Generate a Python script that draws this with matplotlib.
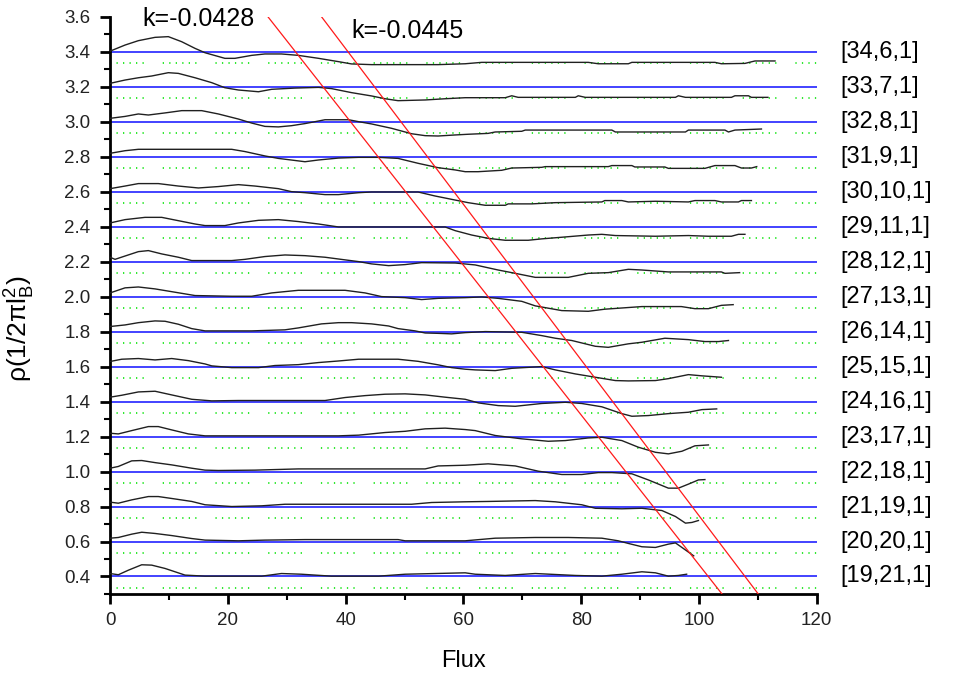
import numpy as np
import matplotlib
matplotlib.use("Agg")
import matplotlib.pyplot as plt
from matplotlib.ticker import MultipleLocator

plt.rcParams['font.family'] = ['Liberation Sans', 'DejaVu Sans']
plt.rcParams['mathtext.default'] = 'regular'

# ---------------- data ----------------
baselines = [3.4, 3.2, 3.0, 2.8, 2.6, 2.4, 2.2, 2.0, 1.8, 1.6, 1.4, 1.2, 1.0, 0.8, 0.6, 0.4]
labels = ["[34,6,1]", "[33,7,1]", "[32,8,1]", "[31,9,1]", "[30,10,1]", "[29,11,1]",
          "[28,12,1]", "[27,13,1]", "[26,14,1]", "[25,15,1]", "[24,16,1]", "[23,17,1]",
          "[22,18,1]", "[21,19,1]", "[20,20,1]", "[19,21,1]"]
green_offset = -0.066          # dotted reference level below each baseline
slopes = [-0.0428, -0.0445]     # red guide lines
slope_x_at_top = [26.8, 35.9]   # flux where each red line leaves y = 3.6
slope_labels = ["k=-0.0428", "k=-0.0445"]

# curves: flux values and deviation from the baseline
X1 = [0, 2.55, 4.81, 7.64, 9.9, 12.17, 14.43, 16.13, 19.5, 21.2, 24.05, 26.3, 29.1, 31.97, 35.4,
      38.8, 41.0, 44.4, 50.1, 55.7, 60.3, 63.1, 69.9, 81.2, 82.9, 88.0, 88.6, 102.7, 103.8, 107.8,
      109.5, 112.9]
D1 = [0.003, 0.038, 0.063, 0.082, 0.086, 0.057, 0.019, -0.006, -0.038, -0.038, -0.021, -0.013,
      -0.013, -0.021, -0.038, -0.057, -0.070, -0.074, -0.074, -0.074, -0.069, -0.061, -0.061,
      -0.061, -0.069, -0.069, -0.061, -0.061, -0.069, -0.067, -0.053, -0.053]

X2 = [0, 2.55, 4.81, 7.07, 9.9, 11.6, 14.43, 17.26, 19.5, 21.79, 25.2, 27.45, 31.4, 35.4, 37.6,
      41.0, 44.4, 46.7, 48.9, 53.5, 56.9, 60.3, 67.1, 68.2, 69.3, 79.0, 79.5, 80.7, 96.0, 96.5,
      97.7, 105.5, 106.1, 108.4, 108.9, 111.7]
D2 = [0.019, 0.038, 0.051, 0.061, 0.080, 0.076, 0.051, 0.023, -0.006, -0.019, -0.029, -0.015,
      -0.008, -0.004, -0.011, -0.034, -0.053, -0.069, -0.080, -0.076, -0.069, -0.063, -0.063,
      -0.052, -0.061, -0.061, -0.052, -0.061, -0.061, -0.052, -0.061, -0.061, -0.052, -0.052,
      -0.061, -0.061]

X3 = [0, 2.55, 4.81, 6.51, 9.34, 12.17, 15.56, 18.39, 21.79, 24.05, 26.3, 28.58, 30.8, 33.1,
      34.2, 36.5, 40.5, 42.2, 44.4, 47.8, 51.2, 53.5, 55.7, 58.6, 60.8, 64.2, 65.4, 69.9, 70.5,
      85.2, 85.8, 97.7, 98.2, 104.4, 105.0, 106.1, 110.6]
D3 = [0.019, 0.030, 0.044, 0.038, 0.050, 0.063, 0.063, 0.044, 0.015, -0.008, -0.027, -0.030,
      -0.023, -0.011, -0.004, 0.011, 0.011, 0.0, -0.013, -0.038, -0.069, -0.080, -0.082, -0.076,
      -0.072, -0.067, -0.059, -0.055, -0.048, -0.048, -0.059, -0.059, -0.048, -0.048, -0.059,
      -0.048, -0.042]

X4 = [0, 2.55, 4.81, 10.47, 20.66, 22.92, 26.3, 28.58, 33.1, 35.4, 38.8, 42.2, 45.6, 48.9, 52.3,
      55.7, 58.6, 60.3, 62.5, 66.5, 68.2, 73.3, 73.9, 84.6, 85.2, 88.6, 89.1, 94.2, 94.8, 101.0,
      102.7, 106.1, 107.2, 108.9, 109.8]
D4 = [0.019, 0.034, 0.042, 0.042, 0.042, 0.029, 0.004, -0.010, -0.029, -0.019, -0.008, -0.004,
      -0.004, -0.010, -0.038, -0.063, -0.076, -0.086, -0.086, -0.078, -0.065, -0.061, -0.057,
      -0.057, -0.051, -0.051, -0.059, -0.059, -0.067, -0.067, -0.051, -0.051, -0.065, -0.065,
      -0.057]

X5 = [0, 2.55, 4.81, 8.2, 11.6, 15.0, 18.39, 21.79, 24.6, 28.58, 30.8, 33.1, 36.5, 38.8, 42.2,
      44.4, 47.8, 52.3, 55.2, 58.0, 60.8, 63.7, 67.1, 67.6, 71.6, 75.6, 83.5, 84.0, 86.9, 88.0,
      92.6, 98.2, 99.3, 102.7, 103.8, 106.7, 107.2, 108.9]
D5 = [0.017, 0.032, 0.046, 0.046, 0.032, 0.021, 0.029, 0.040, 0.032, 0.017, 0.0, -0.006, -0.017,
      -0.017, -0.006, -0.002, -0.002, -0.002, -0.025, -0.044, -0.063, -0.078, -0.078, -0.070,
      -0.070, -0.063, -0.059, -0.051, -0.051, -0.059, -0.055, -0.059, -0.051, -0.051, -0.059,
      -0.059, -0.051, -0.051]

X6 = [0, 2.55, 5.94, 8.77, 11.6, 14.43, 16.13, 19.5, 21.79, 25.2, 28.58, 31.97, 35.4, 38.8, 56.9,
      58.6, 61.4, 64.2, 67.1, 71.0, 73.3, 77.3, 81.2, 83.5, 85.8, 92.6, 98.2, 101.6, 105.5, 106.7,
      107.8]
D6 = [0.021, 0.040, 0.053, 0.053, 0.034, 0.015, 0.006, 0.006, 0.021, 0.036, 0.040, 0.029, 0.015,
      -0.002, -0.002, -0.023, -0.048, -0.067, -0.078, -0.078, -0.070, -0.059, -0.048, -0.044,
      -0.051, -0.055, -0.051, -0.055, -0.055, -0.044, -0.044]

X7 = [0, 0.85, 2.55, 4.81, 6.51, 8.77, 11.6, 13.87, 20.66, 22.92, 26.3, 29.7, 33.1, 36.5, 39.9,
      42.2, 44.4, 47.3, 50.1, 52.9, 58.6, 62.0, 65.9, 68.8, 72.2, 77.8, 81.2, 84.6, 88.0, 90.3,
      94.8, 103.8, 104.4, 106.9]
D7 = [0.025, 0.013, 0.032, 0.057, 0.063, 0.044, 0.025, 0.006, 0.006, 0.013, 0.029, 0.038, 0.034,
      0.025, 0.010, 0.0, -0.013, -0.023, -0.017, -0.006, -0.008, -0.019, -0.048, -0.067, -0.090,
      -0.090, -0.067, -0.063, -0.044, -0.048, -0.059, -0.059, -0.067, -0.063]

X8 = [0, 2.55, 4.81, 7.64, 11.04, 14.43, 20.66, 24.05, 27.45, 31.97, 35.9, 39.9, 43.3, 46.1,
      50.1, 52.9, 55.7, 60.3, 63.1, 65.9, 69.9, 72.2, 76.7, 81.2, 84.0, 90.3, 97.0, 99.3, 101.6,
      103.8, 105.8]
D8 = [0.021, 0.050, 0.055, 0.044, 0.025, 0.006, 0.002, 0.002, 0.021, 0.036, 0.036, 0.036, 0.021,
      0.0, -0.006, -0.017, -0.010, -0.006, -0.002, -0.010, -0.027, -0.053, -0.080, -0.084,
      -0.072, -0.057, -0.057, -0.069, -0.069, -0.050, -0.046]

X9 = [0, 2.55, 4.81, 7.64, 9.34, 11.6, 13.87, 16.13, 24.05, 29.7, 31.97, 35.9, 38.8, 41.0, 44.4,
      47.3, 48.9, 51.8, 53.5, 55.7, 58.0, 60.3, 63.7, 69.9, 73.3, 75.6, 78.4, 82.4, 84.6, 88.0,
      90.3, 94.2, 98.2, 101.0, 103.3, 105.0]
D9 = [0.029, 0.038, 0.051, 0.061, 0.059, 0.042, 0.017, 0.004, 0.004, 0.010, 0.021, 0.044, 0.051,
      0.051, 0.044, 0.032, 0.017, 0.004, -0.008, -0.010, -0.013, -0.006, 0.0, -0.004, -0.023,
      -0.038, -0.051, -0.084, -0.090, -0.070, -0.061, -0.038, -0.046, -0.057, -0.057, -0.051]

X10 = [0, 1.98, 4.81, 7.64, 10.47, 13.3, 16.13, 17.26, 20.66, 25.2, 28.0, 31.97, 35.4, 38.8, 42.2,
       48.9, 52.3, 55.7, 58.0, 60.3, 62.0, 65.4, 68.2, 73.3, 75.6, 79.0, 82.4, 85.8, 88.0, 92.6,
       94.8, 98.2, 100.5, 103.8]
D10 = [0.029, 0.042, 0.046, 0.038, 0.046, 0.034, 0.015, 0.004, -0.006, -0.006, 0.006, 0.011,
       0.023, 0.032, 0.042, 0.042, 0.030, 0.010, -0.006, -0.015, -0.019, -0.023, -0.010, 0.0,
       -0.019, -0.042, -0.061, -0.080, -0.082, -0.080, -0.069, -0.046, -0.053, -0.061]

X11 = [0, 1.98, 4.81, 7.64, 10.47, 13.87, 17.26, 21.79, 27.45, 36.5, 39.9, 43.3, 46.7, 50.1, 53.5,
       56.9, 60.3, 62.6, 65.9, 68.8, 73.3, 77.3, 80.1, 83.5, 86.9, 88.6, 91.4, 94.8, 98.2, 100.5,
       103.0]
D11 = [0.025, 0.036, 0.055, 0.059, 0.038, 0.013, 0.004, 0.006, 0.006, 0.006, 0.023, 0.034, 0.042,
       0.044, 0.038, 0.025, 0.013, -0.008, -0.023, -0.027, -0.011, -0.004, -0.011, -0.030, -0.069,
       -0.084, -0.080, -0.069, -0.061, -0.046, -0.042]

X12 = [0, 1.41, 3.68, 6.51, 8.2, 10.47, 13.3, 16.13, 38.8, 42.2, 46.7, 50.1, 53.5, 56.9, 60.3,
       62.0, 65.4, 69.9, 74.4, 77.3, 81.2, 83.5, 86.9, 89.7, 92.6, 94.8, 97.1, 99.3, 101.6]
D12 = [0.019, 0.015, 0.034, 0.057, 0.057, 0.038, 0.015, 0.004, 0.004, 0.008, 0.023, 0.030, 0.044,
       0.048, 0.040, 0.034, 0.006, -0.013, -0.027, -0.023, -0.008, -0.004, -0.023, -0.061, -0.090,
       -0.099, -0.084, -0.053, -0.048]

X13 = [0, 1.41, 3.68, 5.38, 7.64, 10.47, 13.87, 16.13, 18.39, 24.6, 31.97, 53.5, 55.7, 60.3,
       64.2, 68.8, 72.7, 76.7, 80.1, 82.9, 85.2, 88.6, 91.4, 94.8, 96.5, 98.2, 99.9, 101.0]
D13 = [0.019, 0.029, 0.061, 0.063, 0.051, 0.038, 0.019, 0.008, 0.006, 0.008, 0.015, 0.015, 0.032,
       0.036, 0.044, 0.032, 0.002, -0.017, -0.017, -0.006, -0.006, -0.013, -0.048, -0.095, -0.095,
       -0.072, -0.048, -0.046]

X14 = [0, 1.41, 3.68, 6.51, 8.2, 10.47, 13.87, 16.13, 20.66, 25.75, 29.7, 51.2, 54.6, 60.3, 64.2,
       72.2, 75.6, 80.1, 82.4, 86.9, 90.3, 93.7, 96.0, 97.7, 98.8, 99.9]
D14 = [0.025, 0.019, 0.038, 0.057, 0.057, 0.046, 0.029, 0.010, 0.0, 0.004, 0.013, 0.013, 0.023,
       0.027, 0.029, 0.034, 0.027, 0.010, -0.010, -0.013, -0.010, -0.023, -0.057, -0.095, -0.091,
       -0.080]

X15 = [0, 1.41, 3.68, 5.38, 7.64, 10.47, 13.87, 16.13, 21.79, 26.3, 33.1, 48.9, 50.1, 60.3, 65.4,
       72.2, 77.8, 83.5, 86.3, 88.0, 90.3, 92.6, 94.8, 96.0, 97.1, 99.1]
D15 = [0.019, 0.023, 0.042, 0.053, 0.046, 0.034, 0.017, 0.008, 0.004, 0.008, 0.011, 0.011, 0.004,
       0.004, 0.019, 0.023, 0.023, 0.019, 0.004, -0.011, -0.030, -0.034, -0.015, -0.008, -0.034,
       -0.082]

X16 = [0, 1.41, 3.11, 5.38, 7.07, 9.34, 12.73, 16.13, 25.75, 29.1, 32.5, 37.6, 45.6, 50.1, 60.3,
       62.0, 67.1, 72.2, 79.0, 83.5, 86.9, 90.3, 92.6, 94.8, 96.5, 97.9]
D16 = [0.017, 0.010, 0.036, 0.067, 0.065, 0.046, 0.008, 0.002, 0.002, 0.017, 0.013, 0.002, 0.002,
       0.013, 0.021, 0.013, 0.006, 0.017, 0.006, 0.002, 0.013, 0.027, 0.021, 0.002, 0.006, 0.013]

curve_x = [X1, X2, X3, X4, X5, X6, X7, X8, X9, X10, X11, X12, X13, X14, X15, X16]
curve_d = [D1, D2, D3, D4, D5, D6, D7, D8, D9, D10, D11, D12, D13, D14, D15, D16]

# ---------------- figure ----------------
fig = plt.figure(figsize=(9.56, 6.79), dpi=100)
ax = fig.add_axes([0.1151, 0.1252, 0.7393, 0.8502])
xmin, xmax = 0, 120
ymin, ymax = 0.3, 3.6
ax.set_xlim(xmin, xmax)
ax.set_ylim(ymin, ymax)

green_dash = (0, (0.7, 2.9, 0.7, 2.9, 0.7, 2.9, 0.7, 2.9, 0.7, 2.9, 0.7, 10.5))
for b in baselines:
    ax.plot([xmin, xmax], [b, b], color='#1010ff', lw=1.1, zorder=2)
    ax.plot([xmin, xmax], [b + green_offset, b + green_offset], color='#1ee61e',
            lw=1.3, linestyle=green_dash, zorder=1)

for b, xs, ds in zip(baselines, curve_x, curve_d):
    ax.plot(xs, np.array(ds) + b, color='#202020', lw=1.0, zorder=3)

for k, x0 in zip(slopes, slope_x_at_top):
    x_bot = x0 + (ymin - ymax) / k
    ax.plot([x0, x_bot], [ymax, ymin], color='#ff1a1a', lw=0.9, zorder=4)

ax.text(5.5, 3.587, slope_labels[0], fontsize=18, ha='left', va='center', clip_on=False)
ax.text(41.0, 3.52, slope_labels[1], fontsize=18, ha='left', va='center', clip_on=False)

for b, lab in zip(baselines, labels):
    ax.text(124.0, b, lab, fontsize=17, ha='left', va='center', clip_on=False)

# axes styling
for s in ['top', 'right']:
    ax.spines[s].set_visible(False)
for s in ['left', 'bottom']:
    ax.spines[s].set_linewidth(2.0)
ax.xaxis.set_major_locator(MultipleLocator(20))
ax.xaxis.set_minor_locator(MultipleLocator(10))
ax.yaxis.set_minor_locator(MultipleLocator(0.1))
ax.tick_params(which='major', direction='out', length=7, width=2, labelsize=13.5,
               labelcolor='#222222')
ax.tick_params(which='minor', direction='out', length=4, width=1.5)
ax.tick_params(axis='y', which='major', pad=7)
ax.tick_params(axis='x', which='major', pad=6)
yt = np.round(np.arange(0.4, 3.61, 0.2), 1)
ax.set_yticks(yt)
ax.set_yticklabels([f"{v:.1f}" for v in yt])
ax.set_xlabel("Flux", fontsize=17, labelpad=15)
ax.set_ylabel(r"$\rho(1/2\pi l_B^2)$", fontsize=19)
ax.yaxis.set_label_coords(-0.104, 0.46)

fig.savefig("out.png", dpi=100)
